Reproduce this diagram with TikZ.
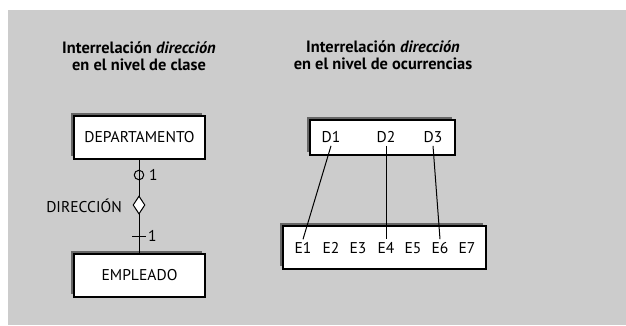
\documentclass[tikz,border=0pt]{standalone}
\usepackage{fontspec}
\setmainfont{PT Sans}
\usepackage{tikz}
\usetikzlibrary{shapes.geometric,shadows}
\definecolor{fondo}{gray}{0.80}
\tikzstyle{clase}=[draw, fill=white, line width=1.1pt, inner sep=0pt,
  drop shadow={shadow xshift=-3.5pt, shadow yshift=3.5pt, fill=black!60, opacity=1}]
\tikzstyle{titulo}=[align=center, font=\fontsize{16.4}{16.5}\selectfont\bfseries]
\tikzstyle{texto}=[font=\fontsize{15.6}{16}\selectfont, inner sep=2pt]
\tikzstyle{ocur}=[font=\fontsize{15.6}{16}\selectfont, inner sep=3pt]

\begin{document}
\begin{tikzpicture}[x=1pt, y=-1pt]
   \useasboundingbox (0,0) rectangle (626,325);
   \fill[white] (0,0) rectangle (626,325);
   \fill[fondo] (8,10) rectangle (626,325);

   % nivel de clase
   \node[titulo] (t1) at (139,56) {Interrelación \textit{dirección}\\en el nivel de clase};
   \node[clase, minimum width=131, minimum height=43] (dep) at (139.5,137.5) {};
   \node[texto] at (dep) {DEPARTAMENTO};
   \node[clase, minimum width=131, minimum height=43] (emp) at (139.5,275.5) {};
   \node[texto] at (emp) {EMPLEADO};
   \draw[line width=1pt] (dep.south) -- (emp.north);
   \node[circle, draw, line width=1pt, minimum size=9.5, inner sep=0pt] (opc) at (139,175) {};
   \node[texto, anchor=west] at (147,175) {1};
   \node[diamond, draw, fill=white, line width=1pt, inner sep=0pt, minimum width=12, minimum height=18] (rel) at (139,205) {};
   \node[texto, anchor=east] at (124,206) {DIRECCIÓN};
   \draw[line width=1pt] (132,236) -- (146,236);
   \node[texto, anchor=west] at (146,236) {1};

   % nivel de ocurrencias
   \node[titulo] (t2) at (383,55) {Interrelación \textit{dirección}\\en el nivel de ocurrencias};
   \node[clase, minimum width=145, minimum height=35] (dirs) at (382.5,137.5) {};
   \node[clase, minimum width=203, minimum height=43] (emps) at (384.5,247.5) {};
   \node[ocur] (d1) at (331,137) {D1};
   \node[ocur] (d2) at (386,137) {D2};
   \node[ocur] (d3) at (433,137) {D3};
   \foreach \i/\x in {1/303,2/331,3/358,4/386,5/413,6/440,7/467}
      \node[ocur] (e\i) at (\x,248) {E\i};
   \draw[line width=1pt] (d1.south) -- (e1.north);
   \draw[line width=1pt] (d2.south) -- (e4.north);
   \draw[line width=1pt] (d3.south) -- (e6.north);
\end{tikzpicture}
\end{document}
